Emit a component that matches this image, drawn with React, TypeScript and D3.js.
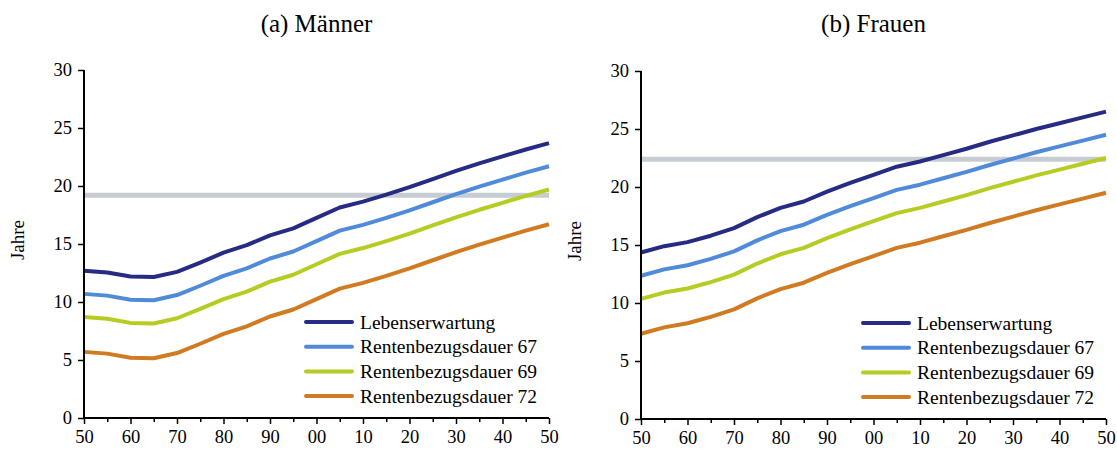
import { useEffect, useRef } from "react";
import * as d3 from "d3";

const years = [1950, 1955, 1960, 1965, 1970, 1975, 1980, 1985, 1990, 1995, 2000, 2005, 2010, 2015, 2020, 2025, 2030, 2035, 2040, 2045, 2050];

const seriesNames = ["Lebenserwartung", "Rentenbezugsdauer 67", "Rentenbezugsdauer 69", "Rentenbezugsdauer 72"];
const seriesColors = ["#262b84", "#4f8bd9", "#b6cc22", "#d07b22"];

// Männer
const menLife = [12.7, 12.55, 12.2, 12.15, 12.6, 13.4, 14.25, 14.9, 15.75, 16.35, 17.25, 18.15, 18.65, 19.25, 19.9, 20.6, 21.3, 21.95, 22.55, 23.15, 23.7];
const men67 = [10.7, 10.55, 10.2, 10.15, 10.6, 11.4, 12.25, 12.9, 13.75, 14.35, 15.25, 16.15, 16.65, 17.25, 17.9, 18.6, 19.3, 19.95, 20.55, 21.15, 21.7];
const men69 = [8.7, 8.55, 8.2, 8.15, 8.6, 9.4, 10.25, 10.9, 11.75, 12.35, 13.25, 14.15, 14.65, 15.25, 15.9, 16.6, 17.3, 17.95, 18.55, 19.15, 19.7];
const men72 = [5.7, 5.55, 5.2, 5.15, 5.6, 6.4, 7.25, 7.9, 8.75, 9.35, 10.25, 11.15, 11.65, 12.25, 12.9, 13.6, 14.3, 14.95, 15.55, 16.15, 16.7];
const menRef = 19.2;

// Frauen
const womenLife = [14.35, 14.9, 15.25, 15.8, 16.45, 17.4, 18.2, 18.75, 19.6, 20.35, 21.05, 21.75, 22.2, 22.75, 23.3, 23.9, 24.45, 25.0, 25.5, 26.0, 26.5];
const women67 = [12.35, 12.9, 13.25, 13.8, 14.45, 15.4, 16.2, 16.75, 17.6, 18.35, 19.05, 19.75, 20.2, 20.75, 21.3, 21.9, 22.45, 23.0, 23.5, 24.0, 24.5];
const women69 = [10.35, 10.9, 11.25, 11.8, 12.45, 13.4, 14.2, 14.75, 15.6, 16.35, 17.05, 17.75, 18.2, 18.75, 19.3, 19.9, 20.45, 21.0, 21.5, 22.0, 22.5];
const women72 = [7.35, 7.9, 8.25, 8.8, 9.45, 10.4, 11.2, 11.75, 12.6, 13.35, 14.05, 14.75, 15.2, 15.75, 16.3, 16.9, 17.45, 18.0, 18.5, 19.0, 19.5];
const womenRef = 22.4;

const yTicks = [0, 5, 10, 15, 20, 25, 30];
const xMajor = [1950, 1960, 1970, 1980, 1990, 2000, 2010, 2020, 2030, 2040, 2050];
const xMinor = [1955, 1965, 1975, 1985, 1995, 2005, 2015, 2025, 2035, 2045];

const FONT = "Liberation Serif, Tinos, Times New Roman, DejaVu Serif, serif";

function drawPanel(svg: any, left: number, top: number, title: string, series: number[][], refValue: number) {
  const width = 465;
  const height = 348;
  const g = svg.append("g").attr("transform", `translate(${left},${top})`);

  const x = d3.scaleLinear().domain([1950, 2050]).range([0, width]);
  const y = d3.scaleLinear().domain([0, 30]).range([height, 0]);

  svg.append("text")
    .attr("x", left + width / 2)
    .attr("y", 32)
    .attr("text-anchor", "middle")
    .attr("font-family", FONT)
    .attr("font-size", 25)
    .text(title);

  svg.append("text")
    .attr("transform", `translate(${left - 60},${top + height / 2 - 4}) rotate(-90)`)
    .attr("text-anchor", "middle")
    .attr("font-family", FONT)
    .attr("font-size", 19)
    .text("Jahre");

  // reference line
  g.append("line")
    .attr("x1", x(1950)).attr("x2", x(2050))
    .attr("y1", y(refValue)).attr("y2", y(refValue))
    .attr("stroke", "#c6ccd2")
    .attr("stroke-width", 5);

  const line = d3.line<number>()
    .x((_, i) => x(years[i]))
    .y(d => y(d));

  series.forEach((s, i) => {
    g.append("path")
      .datum(s)
      .attr("d", line)
      .attr("fill", "none")
      .attr("stroke", seriesColors[i])
      .attr("stroke-width", 4)
      .attr("stroke-linejoin", "round");
  });

  // y axis
  const yAxis = g.append("g")
    .call(d3.axisLeft(y).tickValues(yTicks).tickSize(6).tickPadding(6).tickFormat(d3.format("d")));
  yAxis.attr("font-family", FONT).attr("font-size", 18.5);
  yAxis.select(".domain").attr("stroke", "#000").attr("stroke-width", 2).attr("d", `M0,${height}V0`);
  yAxis.selectAll(".tick line").attr("stroke", "#000").attr("stroke-width", 1.5);
  yAxis.selectAll("text").attr("fill", "#000");

  // x axis
  const xAxisMinor = g.append("g")
    .attr("transform", `translate(0,${height})`)
    .call(d3.axisBottom(x).tickValues(xMinor).tickSize(4).tickFormat(() => ""));
  xAxisMinor.select(".domain").remove();
  xAxisMinor.selectAll(".tick line").attr("stroke", "#000").attr("stroke-width", 1.5);

  const xAxis = g.append("g")
    .attr("transform", `translate(0,${height})`)
    .call(d3.axisBottom(x).tickValues(xMajor).tickSize(6).tickPadding(6).tickFormat(d => d3.format("02d")(+d % 100)));
  xAxis.attr("font-family", FONT).attr("font-size", 18.5);
  xAxis.select(".domain").attr("stroke", "#000").attr("stroke-width", 2).attr("d", `M0,0H${width}`);
  xAxis.selectAll(".tick line").attr("stroke", "#000").attr("stroke-width", 1.5);
  xAxis.selectAll("text").attr("fill", "#000");

  // legend
  const legend = g.append("g").attr("transform", `translate(222,${252})`);
  seriesNames.forEach((name, i) => {
    const row = legend.append("g").attr("transform", `translate(0,${i * 24.7})`);
    row.append("line")
      .attr("x1", 0).attr("x2", 46)
      .attr("y1", 0).attr("y2", 0)
      .attr("stroke", seriesColors[i])
      .attr("stroke-width", 4)
      .attr("stroke-linecap", "round");
    row.append("text")
      .attr("x", 54)
      .attr("y", 6.5)
      .attr("font-family", FONT)
      .attr("font-size", 19.5)
      .text(name);
  });
}

export default function App() {
  const ref = useRef<SVGSVGElement>(null);

  useEffect(() => {
    const svg = d3.select(ref.current);
    svg.selectAll("*").remove();
    svg.append("rect").attr("width", 1117).attr("height", 450).attr("fill", "#fff");
    drawPanel(svg, 84, 70, "(a) Männer", [menLife, men67, men69, men72], menRef);
    drawPanel(svg, 641, 71, "(b) Frauen", [womenLife, women67, women69, women72], womenRef);
  }, []);

  return (
    <svg ref={ref} width={1117} height={450} style={{ position: "absolute", left: 0, top: 0 }} />
  );
}
